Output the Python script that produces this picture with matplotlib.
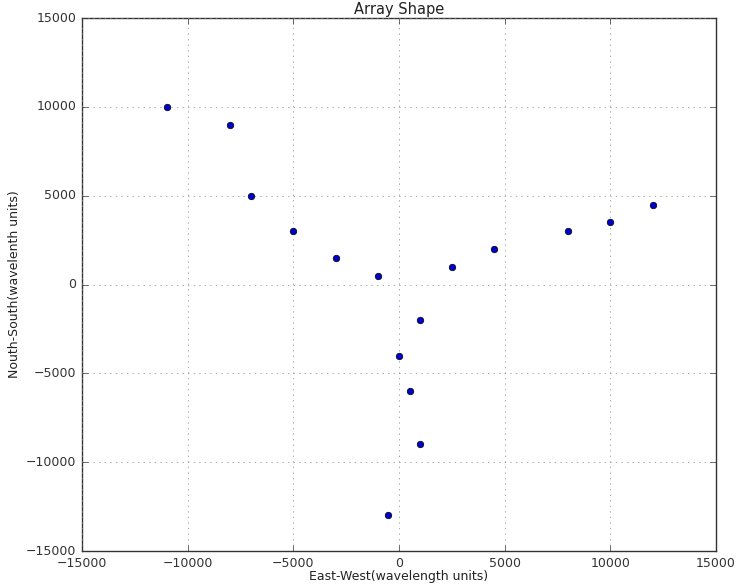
import matplotlib
matplotlib.use("Agg")
import matplotlib.pyplot as plt

# antenna positions
east_west = [-11000, -8000, -7000, -5000, -3000, -1000, 2500, 4500, 8000, 10000, 12000,
             1000, 0, 500, 1000, -500]
north_south = [10000, 9000, 5000, 3000, 1500, 500, 1000, 2000, 3000, 3500, 4500,
               -2000, -4000, -6000, -9000, -13000]
axis_ticks = [-15000, -10000, -5000, 0, 5000, 10000, 15000]

plt.style.use('classic')
fig = plt.figure(figsize=(7.36, 5.87), dpi=100, facecolor='white')
ax = fig.add_axes([0.1114, 0.0613, 0.8614, 0.908])
ax.set_facecolor('white')

ax.scatter(east_west, north_south, s=22, c='#0000c8', edgecolors='black', linewidths=0.5, zorder=3)

ax.set_xlim(-15000, 15000)
ax.set_ylim(-15000, 15000)
ax.set_xticks(axis_ticks)
ax.set_yticks(axis_ticks)
ax.tick_params(labelsize=9, colors='#333333', length=4)
ax.tick_params(axis='x', pad=4)
ax.grid(True, linestyle=':', color='#888888')
for s in ax.spines.values():
    s.set_color('#333333')

ax.set_title("Array Shape", fontsize=10.5, color='#222222', pad=3)
ax.set_xlabel("East-West(wavelength units)", fontsize=9, color='#222222', labelpad=0)
ax.set_ylabel("Nouth-South(wavelenth units)", fontsize=9, color='#222222', labelpad=4)

fig.savefig("out.png", dpi=100, facecolor='white')
